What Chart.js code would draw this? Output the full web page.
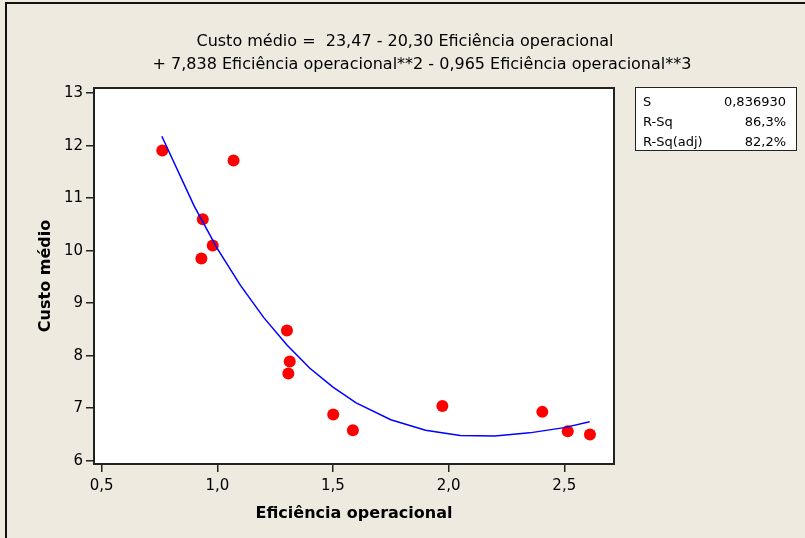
<!DOCTYPE html>
<html>
<head>
<meta charset="utf-8">
<script src="https://cdn.jsdelivr.net/npm/chart.js@4"></script>
<style>
  body { margin: 0; background: #eeeae0; }
  canvas { display: block; }
</style>
</head>
<body>
<canvas id="grafico" width="805" height="538"></canvas>
<script>
const fonte = '"DejaVu Sans", sans-serif';

// pontos observados
const eficiencia = [0.762, 1.070, 0.937, 0.980, 0.931, 1.301, 1.313, 1.307, 1.501, 1.586, 1.973, 2.405, 2.515, 2.611];
const custoMedio = [11.91, 11.72, 10.60, 10.10, 9.85, 8.48, 7.89, 7.66, 6.88, 6.58, 7.04, 6.93, 6.56, 6.50];

// curva ajustada
const ajusteX = [0.76, 0.9, 1.0, 1.1, 1.2, 1.3, 1.4, 1.5, 1.6, 1.75, 1.9, 2.05, 2.2, 2.35, 2.5, 2.61];
const ajusteY = [12.18, 10.85, 10.04, 9.34, 8.73, 8.21, 7.76, 7.40, 7.10, 6.78, 6.58, 6.48, 6.47, 6.53, 6.63, 6.74];

const ticksX = [0.5, 1.0, 1.5, 2.0, 2.5];
const ticksY = [6, 7, 8, 9, 10, 11, 12, 13];

const tituloLinhas = [
  'Custo médio =  23,47 - 20,30 Eficiência operacional',
  '+ 7,838 Eficiência operacional**2 - 0,965 Eficiência operacional**3'
];
const resumoNomes = ['S', 'R-Sq', 'R-Sq(adj)'];
const resumoValores = ['0,836930', '86,3%', '82,2%'];

const fundo = {
  id: 'fundo',
  beforeDraw(chart) {
    const c = chart.ctx;
    c.save();
    c.fillStyle = '#eeeae0';
    c.fillRect(0, 0, chart.width, chart.height);
    // moldura externa
    c.fillStyle = '#111';
    c.fillRect(5, 2, chart.width - 5, 2);
    c.fillRect(5, 2, 2, chart.height - 2);
    // area do grafico
    const a = chart.chartArea;
    c.fillStyle = '#ffffff';
    c.fillRect(a.left, a.top, a.right - a.left, a.bottom - a.top);
    // titulo
    c.fillStyle = '#000';
    c.font = '16px ' + fonte;
    c.textAlign = 'center';
    c.textBaseline = 'middle';
    c.fillText(tituloLinhas[0], 405, 42);
    c.fillText(tituloLinhas[1], 422, 65);
    // caixa de resumo
    c.fillStyle = '#ffffff';
    c.fillRect(635, 87, 162, 64);
    c.strokeStyle = '#222';
    c.lineWidth = 1;
    c.strokeRect(635.5, 87.5, 161, 63);
    c.fillStyle = '#000';
    c.font = '13px ' + fonte;
    resumoNomes.forEach((n, i) => {
      const y = 103 + i * 20;
      c.textAlign = 'left';
      c.fillText(n, 643, y);
      c.textAlign = 'right';
      c.fillText(resumoValores[i], 786, y);
    });
    c.restore();
  },
  afterDraw(chart) {
    const a = chart.chartArea;
    const c = chart.ctx;
    c.save();
    c.strokeStyle = '#222';
    c.lineWidth = 2;
    c.strokeRect(a.left, a.top, a.right - a.left, a.bottom - a.top);
    c.restore();
  }
};

const data = {
  datasets: [{
    type: 'line',
    data: ajusteX.map((x, i) => ({ x, y: ajusteY[i] })),
    borderColor: '#0000ff',
    borderWidth: 1.5,
    pointRadius: 0,
    tension: 0,
    fill: false
  }, {
    type: 'scatter',
    data: eficiencia.map((x, i) => ({ x, y: custoMedio[i] })),
    backgroundColor: '#ff0000',
    borderWidth: 0,
    pointRadius: 6
  }]
};

const config = {
  type: 'scatter',
  data,
  options: {
    responsive: false,
    animation: false,
    devicePixelRatio: 1,
    layout: { padding: { left: 0, top: 88, right: 191, bottom: 0 } },
    scales: {
      x: {
        type: 'linear',
        min: 0.4667,
        max: 2.715,
        afterFit(s) { s.height = 74; },
        afterBuildTicks(s) { s.ticks = ticksX.map(v => ({ value: v })); },
        border: { display: false },
        grid: { drawOnChartArea: false, drawTicks: true, tickLength: 8, color: '#222', lineWidth: 1.5 },
        ticks: {
          autoSkip: false, maxRotation: 0, padding: 5, color: '#000',
          font: { family: fonte, size: 15 },
          callback: v => v.toFixed(1).replace('.', ',')
        },
        title: {
          display: true, text: 'Eficiência operacional', color: '#000', padding: 15,
          font: { family: fonte, size: 16, weight: 'bold' }
        }
      },
      y: {
        type: 'linear',
        min: 5.937,
        max: 13.099,
        afterFit(s) { s.width = 94; },
        afterBuildTicks(s) { s.ticks = ticksY.map(v => ({ value: v })); },
        border: { display: false },
        grid: { drawOnChartArea: false, drawTicks: true, tickLength: 8, color: '#222', lineWidth: 1.5 },
        ticks: {
          autoSkip: false, padding: 3, color: '#000',
          font: { family: fonte, size: 15 }
        },
        title: {
          display: true, text: 'Custo médio', color: '#000', padding: 36,
          font: { family: fonte, size: 16, weight: 'bold' }
        }
      }
    },
    plugins: {
      legend: { display: false },
      title: { display: false },
      tooltip: { enabled: false }
    }
  },
  plugins: [fundo]
};

const grafico = new Chart(document.getElementById('grafico'), config);
</script>
</body>
</html>
